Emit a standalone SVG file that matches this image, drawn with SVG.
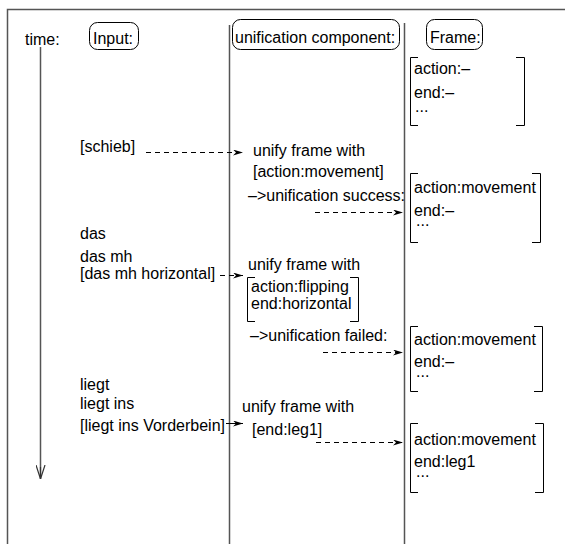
<svg xmlns="http://www.w3.org/2000/svg" width="565" height="544" viewBox="0 0 565 544">
<defs>
<style>
text{font-family:"Liberation Sans",Arial,sans-serif;font-size:16px;fill:#000}
.ln{stroke:#555;stroke-width:1.5;fill:none}
.bk{stroke:#000;stroke-width:1;fill:none}
.box{stroke:#000;stroke-width:1;fill:#fff}
.da{stroke:#000;stroke-width:1;fill:none;stroke-dasharray:5,4}
.so{stroke:#000;stroke-width:1;fill:none}
</style>
<marker id="ah" viewBox="0 0 10 6" refX="10" refY="3" markerWidth="10" markerHeight="6" markerUnits="userSpaceOnUse" orient="auto">
<path d="M0,0 L10,3 L0,6 L3,3 Z" fill="#000"/>
</marker>
<marker id="ta" viewBox="0 0 10 14" refX="5" refY="14" markerWidth="10" markerHeight="14" markerUnits="userSpaceOnUse" orient="0">
<path d="M0.5,0 L5,14 L9.5,0 M5,14 L5,2" stroke="#333" stroke-width="1.2" fill="none"/>
</marker>
</defs>
<rect class="ln" x="7.5" y="9.5" width="620" height="600"/>
<g id="time">
<text x="25" y="45">time:</text>
<line class="ln" x1="40.5" y1="47" x2="40.5" y2="479" marker-end="url(#ta)"/>
</g>
<g id="input-header">
<rect class="box" x="89.5" y="22.5" width="49" height="27" rx="8"/>
<text x="93" y="44">Input:</text>
</g>
<g id="unification-header">
<line class="ln" x1="229.5" y1="25" x2="229.5" y2="544"/>
<rect class="box" x="232.5" y="19.5" width="167" height="30" rx="8"/>
<text x="235" y="43">unification component:</text>
</g>
<g id="frame-header">
<line class="ln" x1="404.5" y1="23" x2="404.5" y2="544"/>
<rect class="box" x="426.5" y="19.5" width="56" height="30" rx="8"/>
<text x="430" y="43">Frame:</text>
</g>
<g id="frame1">
<path class="bk" d="M418,57.5 H410.5 V125.5 H418 M516,57.5 H524.5 V125.5 H516"/>
<text x="414" y="74">action:–</text>
<text x="414" y="98">end:–</text>
<text x="415" y="112">...</text>
</g>
<g id="input-schieb">
<text x="80" y="152">[schieb]</text>
</g>
<g id="unify1">
<text x="253" y="156">unify frame with</text>
<text x="253" y="177">[action:movement]</text>
<text x="248" y="201">–&gt;unification success:</text>
</g>
<g id="frame2">
<path class="bk" d="M418,173.5 H410.5 V242.5 H418 M532,173.5 H540.5 V242.5 H532"/>
<text x="414" y="193">action:movement</text>
<text x="414" y="216">end:–</text>
<text x="416" y="226">...</text>
</g>
<g id="input-das">
<text x="80" y="239">das</text>
<text x="80" y="262">das mh</text>
<text x="80" y="279">[das mh horizontal]</text>
</g>
<g id="unify2">
<text x="248" y="270">unify frame with</text>
<path class="bk" d="M255,277.5 H247.5 V321.5 H255 M350,277.5 H358.5 V321.5 H350"/>
<text x="251" y="292">action:flipping</text>
<text x="251" y="309">end:horizontal</text>
<text x="250" y="341">–&gt;unification failed:</text>
</g>
<g id="frame3">
<path class="bk" d="M418,326.5 H410.5 V391.5 H418 M534,326.5 H542.5 V391.5 H534"/>
<text x="414" y="345">action:movement</text>
<text x="414" y="367">end:–</text>
<text x="416" y="377">...</text>
</g>
<g id="input-liegt">
<text x="80" y="390">liegt</text>
<text x="80" y="409">liegt ins</text>
<text x="80" y="431">[liegt ins Vorderbein]</text>
</g>
<g id="unify3">
<text x="242" y="412">unify frame with</text>
<text x="252" y="435">[end:leg1]</text>
</g>
<g id="frame4">
<path class="bk" d="M418,423.5 H410.5 V492.5 H418 M535,423.5 H543.5 V492.5 H535"/>
<text x="414" y="445">action:movement</text>
<text x="414" y="467">end:leg1</text>
<text x="416" y="477">...</text>
</g>
<g id="connectors">
<line class="da" x1="146" y1="152.5" x2="243" y2="152.5" marker-end="url(#ah)"/>
<line class="da" x1="315" y1="212.5" x2="403" y2="212.5" marker-end="url(#ah)"/>
<line class="da" x1="220" y1="275.5" x2="243" y2="275.5" marker-end="url(#ah)"/>
<line class="da" x1="323" y1="352.5" x2="403" y2="352.5" marker-end="url(#ah)"/>
<line class="so" x1="226" y1="423.5" x2="243" y2="423.5" marker-end="url(#ah)"/>
<line class="da" x1="316" y1="442.5" x2="403" y2="442.5" marker-end="url(#ah)"/>
</g>
</svg>
